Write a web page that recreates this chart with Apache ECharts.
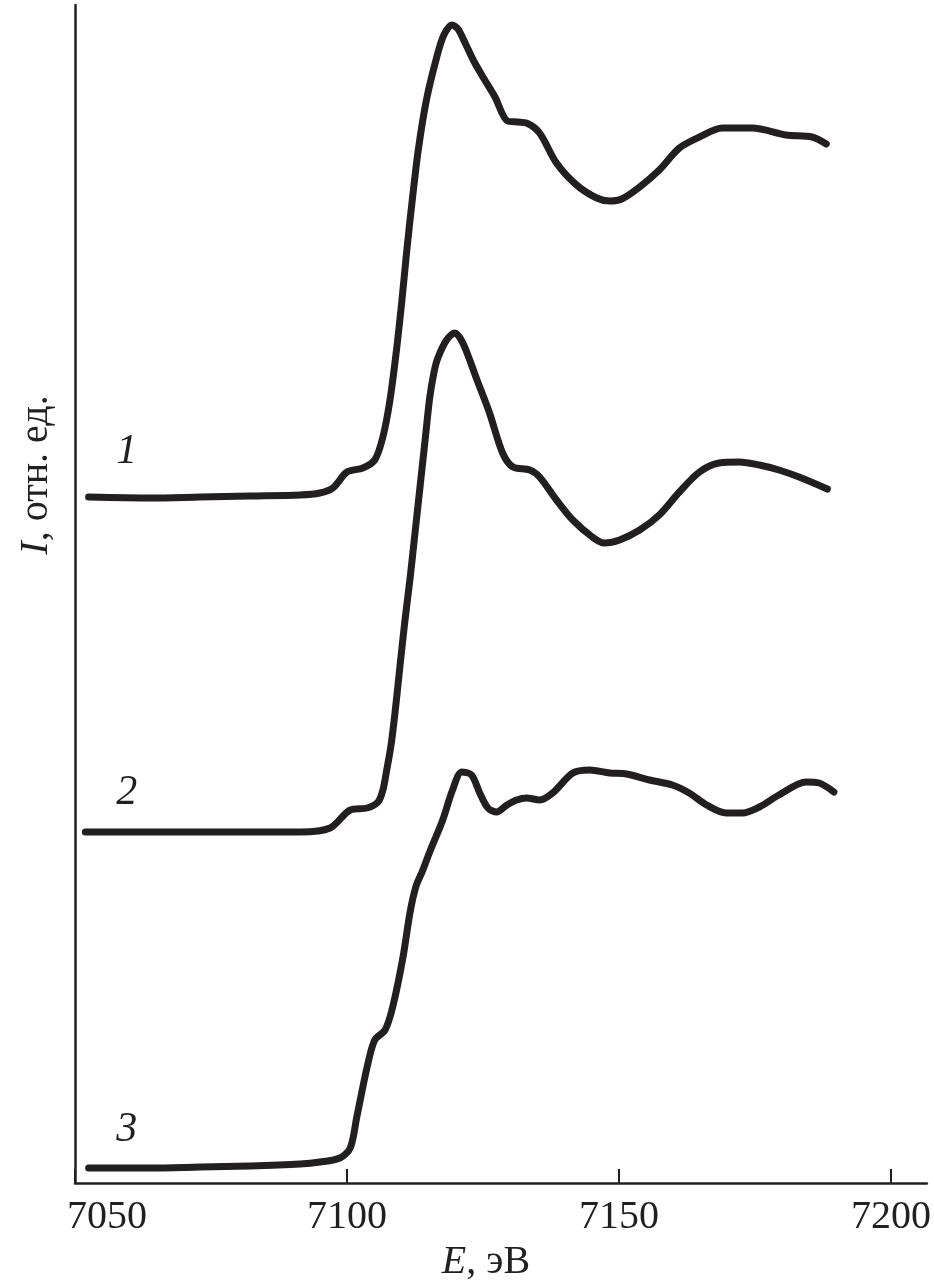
<!DOCTYPE html>
<html>
<head>
<meta charset="utf-8">
<script src="https://cdn.jsdelivr.net/npm/echarts@6/dist/echarts.min.js"></script>
<style>
  html, body { margin: 0; padding: 0; background: #fff; }
  #chart { width: 934px; height: 1284px; }
</style>
</head>
<body>
<div id="chart"></div>
<script>
// Energy (eV) and intensity (arbitrary units)
const curve1E = [7052.5, 7063.9, 7073.0, 7082.2, 7091.4, 7095.0, 7097.4, 7100.0, 7102.9, 7105.1, 7106.6, 7107.9, 7109.1, 7110.1, 7111.0, 7112.0, 7113.1, 7114.6, 7116.5, 7117.8, 7119.3, 7120.4, 7121.8, 7123.3, 7125.1, 7127.2, 7129.5, 7131.4, 7133.0, 7135.4, 7138.5, 7142.2, 7145.9, 7148.3, 7150.5, 7153.8, 7157.4, 7161.1, 7164.8, 7169.0, 7174.5, 7180.7, 7185.5, 7188.1];
const curve1I = [68.6, 68.5, 68.6, 68.7, 68.8, 69.0, 69.5, 71.1, 71.5, 72.3, 74.6, 78.3, 83.3, 88.3, 93.3, 98.3, 103.3, 108.3, 112.6, 114.8, 115.8, 115.4, 113.9, 112.2, 110.5, 108.6, 106.2, 106.1, 106.0, 105.0, 102.0, 99.8, 98.5, 98.2, 98.4, 99.6, 101.3, 103.5, 104.6, 105.5, 105.5, 104.8, 104.6, 103.9];

const curve2E = [7051.9, 7063.9, 7073.0, 7082.2, 7091.4, 7096.9, 7100.6, 7103.7, 7105.7, 7106.6, 7107.3, 7108.1, 7108.8, 7109.7, 7110.6, 7111.6, 7112.5, 7113.4, 7114.3, 7115.2, 7116.0, 7116.7, 7118.3, 7119.8, 7121.3, 7123.9, 7126.2, 7128.6, 7130.5, 7133.6, 7135.4, 7138.5, 7141.5, 7145.1, 7147.3, 7150.1, 7153.8, 7157.4, 7161.1, 7164.8, 7168.4, 7172.1, 7175.8, 7179.4, 7183.1, 7188.3];
const curve2I = [35.1, 35.1, 35.1, 35.1, 35.1, 35.5, 37.3, 37.5, 38.1, 39.3, 41.3, 43.8, 46.9, 51.5, 56.0, 60.5, 65.0, 69.5, 74.0, 78.5, 81.1, 82.5, 84.3, 85.0, 84.0, 80.3, 77.0, 73.0, 71.6, 71.3, 70.6, 68.3, 66.3, 64.6, 64.0, 64.3, 65.3, 66.8, 69.1, 71.1, 72.0, 72.1, 71.8, 71.3, 70.6, 69.4];

const curve3E = [7052.5, 7063.9, 7073.0, 7082.2, 7091.4, 7095.0, 7098.7, 7100.6, 7101.8, 7103.7, 7105.1, 7107.0, 7108.4, 7110.3, 7111.6, 7112.7, 7113.8, 7115.2, 7117.6, 7119.4, 7121.1, 7122.9, 7124.4, 7125.9, 7127.5, 7129.4, 7131.2, 7133.0, 7135.4, 7137.8, 7141.5, 7144.6, 7148.3, 7151.4, 7155.6, 7159.8, 7162.9, 7166.1, 7169.7, 7172.7, 7175.8, 7179.4, 7184.4, 7186.8, 7189.5];
const curve3I = [1.5, 1.5, 1.6, 1.7, 1.9, 2.1, 2.5, 3.5, 6.6, 11.6, 14.3, 15.3, 17.6, 22.6, 27.1, 29.7, 31.1, 33.1, 36.3, 39.3, 41.1, 40.8, 39.0, 37.5, 37.1, 37.8, 38.3, 38.5, 38.3, 39.0, 41.0, 41.3, 41.0, 40.9, 40.3, 39.8, 39.0, 37.8, 37.0, 37.0, 37.6, 38.8, 40.1, 40.0, 39.1];

// Curve number labels
const curveLabels = ['1', '2', '3'];
const labelE = [7059.5, 7059.5, 7059.5];
const labelI = [73.1, 39.0, 5.3];

const xTicks = [7050, 7100, 7150, 7200];

const ink = '#231f20';
const serif = "'Liberation Serif', 'Times New Roman', serif";

function zip(a, b) { return a.map((v, i) => [v, b[i]]); }

const chart = echarts.init(document.getElementById('chart'), null, { renderer: 'canvas' });

function lineSeries(E, I) {
  return {
    type: 'line',
    data: zip(E, I),
    showSymbol: false,
    symbol: 'none',
    smooth: 0.3,
    lineStyle: { color: ink, width: 7, cap: 'round', join: 'round', opacity: 1 },
    silent: true,
    z: 3
  };
}

chart.setOption({
  animation: false,
  backgroundColor: '#fff',
  grid: { left: 75, right: 6, top: 5, bottom: 101, containLabel: false },
  xAxis: {
    type: 'value',
    min: 7050,
    max: 7206.6,
    interval: 50,
    axisLine: { show: true, lineStyle: { color: ink, width: 2.5 } },
    axisTick: { show: true, inside: true, length: 14, lineStyle: { color: ink, width: 2 } },
    splitLine: { show: false },
    axisLabel: {
      color: ink,
      fontFamily: serif,
      fontSize: 40,
      margin: 14,
      showMinLabel: true,
      showMaxLabel: false,
      hideOverlap: false,
      formatter: v => (xTicks.indexOf(v) < 0 ? '' : (v === xTicks[0] ? '{m|' + v + '}' : String(v))),
      rich: {
        m: { fontFamily: serif, fontSize: 40, color: ink, padding: [0, 0, 0, 64] }
      }
    }
  },
  yAxis: {
    type: 'value',
    min: 0,
    max: 117.8,
    axisLine: { show: true, lineStyle: { color: ink, width: 2.5 } },
    axisTick: { show: false },
    axisLabel: { show: false },
    splitLine: { show: false }
  },
  graphic: [
    {
      type: 'text',
      x: 486, y: 1262,
      style: {
        text: '{i|E}, эВ',
        fill: ink,
        font: '40px ' + serif,
        align: 'center',
        verticalAlign: 'middle',
        rich: {
          i: { fontStyle: 'italic', fontFamily: serif, fontSize: 40, fill: ink }
        }
      }
    },
    {
      type: 'text',
      x: 36, y: 475,
      rotation: Math.PI / 2,
      style: {
        text: '{i|I}, отн. ед.',
        fill: ink,
        font: '40px ' + serif,
        align: 'center',
        verticalAlign: 'middle',
        rich: {
          i: { fontStyle: 'italic', fontFamily: serif, fontSize: 40, fill: ink }
        }
      }
    }
  ],
  series: [
    lineSeries(curve1E, curve1I),
    lineSeries(curve2E, curve2I),
    lineSeries(curve3E, curve3I),
    {
      type: 'scatter',
      data: labelE.map((e, i) => ({ value: [e, labelI[i]], name: curveLabels[i] })),
      symbolSize: 1,
      itemStyle: { opacity: 0 },
      silent: true,
      label: {
        show: true,
        position: 'inside',
        formatter: p => p.name,
        color: ink,
        opacity: 1,
        fontFamily: serif,
        fontStyle: 'italic',
        fontSize: 42
      },
      z: 5
    }
  ]
});
</script>
</body>
</html>
